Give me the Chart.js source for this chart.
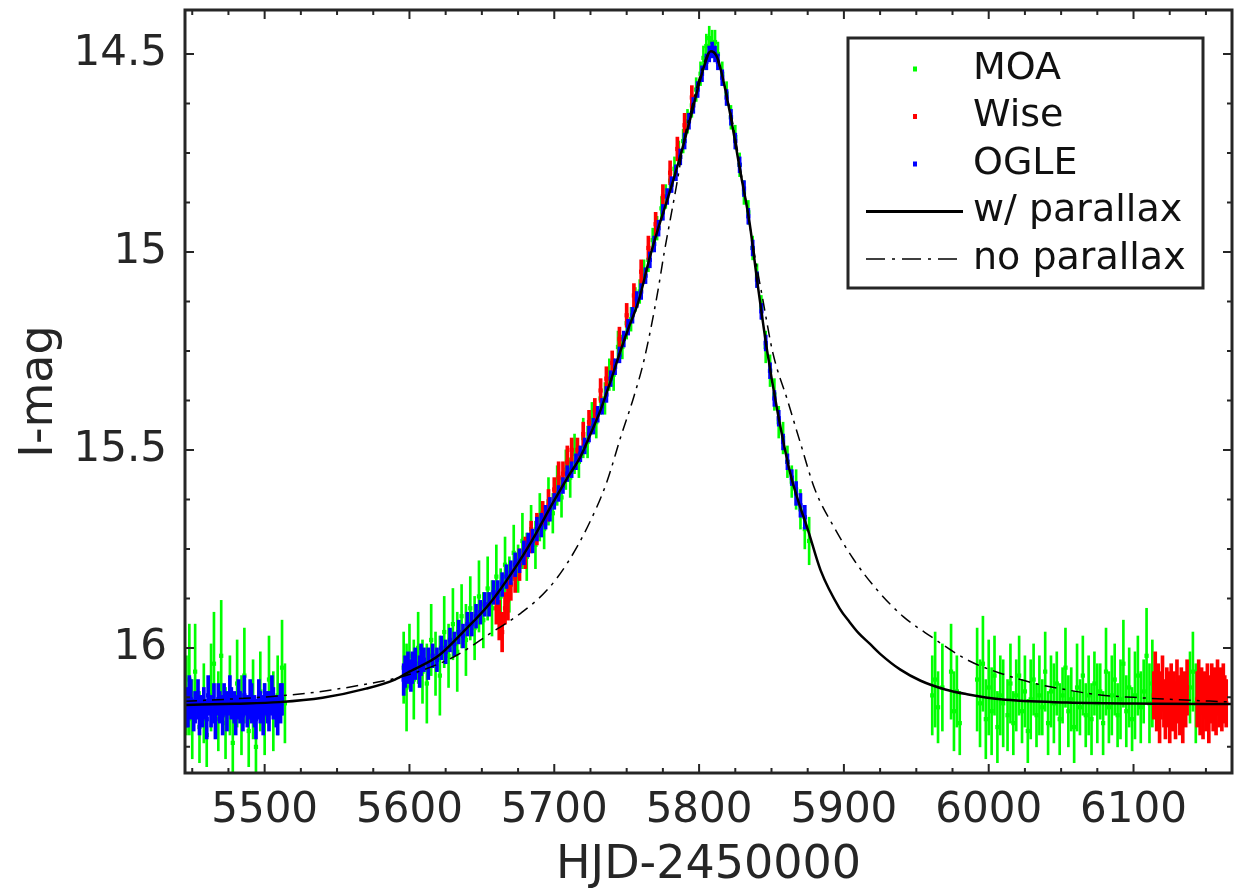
<!DOCTYPE html>
<html>
<head>
<meta charset="utf-8">
<title>I-mag light curve</title>
<script src="https://cdn.jsdelivr.net/npm/chart.js@4.4.1/dist/chart.umd.min.js"></script>
<style>
  html, body { margin: 0; padding: 0; background: #fff; }
  #lightCurve { display: block; }
</style>
</head>
<body>
<canvas id="lightCurve" width="1237" height="889"></canvas>
<script>
// axis ticks
const xTicks = [5500, 5600, 5700, 5800, 5900, 6000, 6100];
const yTicks = [14.5, 15, 15.5, 16];

// [HJD-2450000, I-mag, error]
const moaPoints = [
  [5446,16.12,0.10],[5448,16.08,0.14],[5450,16.18,0.10],[5452,16.06,0.12],[5455,16.20,0.09],
  [5458,16.14,0.10],[5460,16.22,0.08],[5463,16.10,0.11],[5465,16.04,0.13],[5468,16.16,0.10],
  [5470,16.02,0.14],[5473,16.19,0.09],[5476,16.12,0.10],[5478,16.24,0.08],[5481,16.09,0.11],
  [5484,16.17,0.10],[5486,16.07,0.12],[5489,16.21,0.09],[5492,16.13,0.10],[5494,16.25,0.07],
  [5497,16.11,0.10],[5500,16.18,0.09],[5503,16.08,0.11],[5506,16.16,0.10],[5509,16.12,0.10],
  [5512,16.05,0.12],[5514,16.14,0.10],
  [5596,16.05,0.09],[5598,16.10,0.11],[5600,16.02,0.08],[5603,16.08,0.10],[5606,16.00,0.09],
  [5609,16.06,0.08],[5612,16.09,0.10],[5615,15.98,0.09],[5618,16.04,0.08],[5621,16.07,0.10],
  [5624,15.96,0.09],[5627,16.02,0.08],[5630,15.94,0.09],[5633,16.01,0.10],[5636,15.92,0.08],
  [5639,15.98,0.09],[5642,15.90,0.08],[5645,15.95,0.08],[5648,15.87,0.09],[5651,15.93,0.07],
  [5654,15.85,0.08],[5657,15.90,0.07],[5660,15.82,0.08],[5663,15.87,0.07],[5666,15.79,0.07],
  [5669,15.84,0.07],[5672,15.76,0.07],[5675,15.80,0.06],[5678,15.73,0.07],[5681,15.77,0.06],
  [5684,15.70,0.06],[5687,15.74,0.06],[5690,15.67,0.06],[5693,15.70,0.05],[5696,15.63,0.06],
  [5699,15.66,0.05],[5702,15.59,0.05],[5705,15.62,0.05],[5708,15.55,0.05],[5711,15.57,0.05],
  [5714,15.51,0.05],[5717,15.53,0.04],[5720,15.47,0.05],[5723,15.48,0.04],[5726,15.42,0.04],
  [5729,15.43,0.04],[5732,15.37,0.04],[5735,15.37,0.04],[5738,15.31,0.04],[5741,15.31,0.04],
  [5744,15.24,0.04],[5747,15.24,0.03],[5750,15.18,0.04],[5753,15.17,0.03],[5756,15.12,0.03],
  [5759,15.10,0.03],[5762,15.05,0.03],[5765,15.02,0.03],[5768,14.97,0.03],[5771,14.94,0.03],
  [5774,14.89,0.03],[5777,14.86,0.03],[5780,14.82,0.03],[5783,14.79,0.03],[5786,14.75,0.03],
  [5789,14.72,0.03],[5792,14.67,0.03],[5795,14.63,0.03],[5798,14.59,0.03],[5801,14.55,0.03],
  [5803,14.51,0.03],[5805,14.48,0.03],[5807,14.46,0.03],[5809,14.47,0.03],[5811,14.47,0.03],
  [5813,14.50,0.03],[5816,14.55,0.03],[5819,14.60,0.03],[5822,14.66,0.03],[5825,14.71,0.03],
  [5828,14.78,0.03],[5831,14.85,0.03],[5834,14.90,0.03],[5837,14.99,0.03],[5840,15.06,0.03],
  [5843,15.14,0.03],[5846,15.24,0.04],[5849,15.30,0.04],[5852,15.36,0.04],[5855,15.43,0.04],
  [5858,15.47,0.04],[5861,15.53,0.04],[5864,15.58,0.04],[5867,15.60,0.05],[5870,15.65,0.05],
  [5873,15.70,0.05],[5876,15.73,0.06],
  [5961,16.12,0.10],[5963,16.08,0.12],[5965,16.15,0.09],[5968,16.10,0.11],[5974,16.06,0.12],
  [5976,16.16,0.10],[5978,16.11,0.09],[5980,16.19,0.08],[5992,16.08,0.13],[5994,16.14,0.11],
  [5996,16.04,0.12],[5998,16.18,0.10],[6000,16.10,0.12],[6002,16.16,0.11],[6004,16.07,0.10],
  [6006,16.20,0.09],[6008,16.12,0.10],[6010,16.14,0.11],[6013,16.17,0.09],[6015,16.09,0.10],
  [6017,16.19,0.08],[6019,16.12,0.09],[6021,16.07,0.10],[6023,16.16,0.08],[6025,16.11,0.09],
  [6027,16.21,0.08],[6029,16.13,0.10],[6031,16.08,0.09],[6033,16.17,0.08],[6035,16.12,0.10],
  [6037,16.15,0.07],[6039,16.06,0.10],[6041,16.19,0.08],[6043,16.11,0.09],[6045,16.14,0.10],
  [6047,16.09,0.08],[6049,16.18,0.09],[6051,16.12,0.07],[6053,16.05,0.10],[6055,16.16,0.09],
  [6057,16.13,0.08],[6059,16.20,0.09],[6061,16.10,0.11],[6063,16.15,0.07],[6065,16.07,0.10],
  [6067,16.17,0.08],[6069,16.12,0.10],[6071,16.18,0.09],[6073,16.09,0.08],[6075,16.14,0.10],
  [6077,16.11,0.07],[6079,16.19,0.08],[6081,16.06,0.11],[6083,16.15,0.09],[6085,16.12,0.10],
  [6087,16.08,0.09],[6089,16.17,0.08],[6091,16.13,0.10],[6093,16.04,0.11],[6095,16.16,0.09],
  [6097,16.10,0.10],[6099,16.18,0.08],[6101,16.12,0.11],[6103,16.07,0.10],[6105,16.15,0.09],
  [6107,16.11,0.08],[6109,16.02,0.12],[6111,16.14,0.10],[6113,16.09,0.11],
  [6139,16.10,0.09],[6141,16.06,0.10],[6143,16.14,0.10]
];

const wisePoints = [
  [5660,15.90,0.04],[5662,15.93,0.05],[5664,15.96,0.05],[5666,15.90,0.04],[5668,15.88,0.05],
  [5670,15.84,0.04],[5673,15.82,0.04],[5676,15.79,0.04],[5680,15.76,0.04],[5684,15.72,0.04],
  [5688,15.70,0.04],[5692,15.66,0.03],[5696,15.64,0.04],[5700,15.60,0.03],[5703,15.57,0.04],
  [5706,15.56,0.03],[5709,15.53,0.04],[5712,15.50,0.03],[5716,15.50,0.03],[5720,15.46,0.03],
  [5724,15.43,0.03],[5728,15.40,0.03],[5732,15.35,0.03],[5736,15.32,0.03],[5740,15.28,0.03],
  [5745,15.22,0.03],[5750,15.16,0.03],[5755,15.11,0.03],[5760,15.05,0.03],[5765,14.99,0.03],
  [5770,14.93,0.03],[5775,14.86,0.03],[5780,14.80,0.03],[5785,14.74,0.03],[5790,14.68,0.03],
  [5795,14.61,0.03],
  [6114,16.12,0.06],[6115,16.08,0.07],[6116,16.15,0.06],[6117,16.10,0.06],[6118,16.17,0.07],
  [6119,16.12,0.06],[6120,16.09,0.07],[6121,16.14,0.06],[6122,16.16,0.07],[6123,16.11,0.06],
  [6124,16.13,0.07],[6125,16.18,0.06],[6126,16.10,0.06],[6127,16.14,0.07],[6128,16.12,0.06],
  [6129,16.16,0.07],[6130,16.09,0.06],[6131,16.13,0.06],[6132,16.15,0.07],[6133,16.11,0.06],
  [6134,16.17,0.07],[6135,16.12,0.06],[6136,16.14,0.06],[6137,16.10,0.07],
  [6144,16.13,0.07],[6145,16.09,0.06],[6146,16.15,0.07],[6147,16.11,0.06],[6148,16.16,0.07],
  [6149,16.12,0.06],[6150,16.14,0.07],[6151,16.10,0.06],[6152,16.17,0.07],[6153,16.13,0.06],
  [6154,16.11,0.07],[6155,16.15,0.06],[6156,16.12,0.07],[6157,16.16,0.06],[6158,16.10,0.07],
  [6159,16.14,0.06],[6160,16.12,0.07],[6161,16.15,0.06],[6162,16.11,0.07],[6163,16.13,0.06],
  [6164,16.14,0.06]
];

const oglePoints = [
  [5446,16.15,0.05],[5447,16.16,0.04],[5448,16.12,0.05],[5449,16.13,0.05],[5451,16.17,0.04],
  [5452,16.15,0.04],[5454,16.13,0.05],[5455,16.17,0.05],[5457,16.16,0.04],[5458,16.14,0.04],
  [5460,16.18,0.05],[5461,16.12,0.05],[5463,16.16,0.04],[5465,16.14,0.05],[5466,16.18,0.05],
  [5468,16.13,0.04],[5469,16.15,0.04],[5471,16.17,0.05],[5472,16.13,0.04],[5474,16.16,0.05],
  [5476,16.12,0.05],[5477,16.14,0.04],[5479,16.15,0.04],[5480,16.17,0.05],[5482,16.13,0.05],
  [5483,16.15,0.04],[5485,16.17,0.04],[5486,16.12,0.05],[5488,16.16,0.04],[5490,16.13,0.05],
  [5491,16.14,0.05],[5493,16.16,0.04],[5494,16.18,0.05],[5496,16.13,0.05],[5497,16.15,0.04],
  [5499,16.17,0.05],[5500,16.13,0.04],[5502,16.15,0.04],[5503,16.16,0.05],[5505,16.12,0.05],
  [5506,16.14,0.04],[5508,16.16,0.04],[5509,16.17,0.05],[5511,16.14,0.05],[5512,16.13,0.04],
  [5596,16.08,0.04],[5597,16.06,0.04],[5599,16.05,0.04],[5601,16.07,0.04],[5602,16.05,0.04],
  [5604,16.04,0.04],[5607,16.06,0.04],[5608,16.03,0.04],
  [5610,16.03,0.03],[5613,16.04,0.04],[5616,16.02,0.03],[5619,16.03,0.03],[5622,16.00,0.03],
  [5625,16.01,0.03],[5628,15.98,0.03],[5631,15.99,0.03],[5634,15.96,0.03],[5637,15.97,0.03],
  [5640,15.94,0.03],[5643,15.94,0.03],[5646,15.92,0.03],[5649,15.91,0.03],[5652,15.89,0.03],
  [5655,15.89,0.03],[5658,15.86,0.03],[5661,15.86,0.03],[5664,15.84,0.03],[5667,15.82,0.03],
  [5670,15.81,0.03],[5673,15.79,0.03],[5676,15.78,0.03],[5679,15.76,0.03],[5682,15.74,0.03],
  [5685,15.73,0.03],[5688,15.70,0.03],[5691,15.69,0.03],[5694,15.67,0.03],[5697,15.65,0.03],
  [5700,15.63,0.02],[5703,15.61,0.02],[5706,15.59,0.02],[5709,15.56,0.02],[5712,15.55,0.02],
  [5715,15.53,0.02],[5718,15.51,0.02],[5721,15.49,0.02],[5724,15.46,0.02],[5727,15.44,0.02],
  [5730,15.41,0.02],[5733,15.39,0.02],[5736,15.36,0.02],[5739,15.32,0.02],[5742,15.29,0.02],
  [5745,15.26,0.02],[5748,15.22,0.02],[5751,15.19,0.02],[5754,15.16,0.02],[5757,15.12,0.02],
  [5760,15.10,0.02],[5763,15.06,0.02],[5766,15.02,0.02],[5769,14.98,0.02],[5772,14.94,0.02],
  [5775,14.90,0.02],[5778,14.86,0.02],[5781,14.83,0.02],[5784,14.80,0.02],[5787,14.76,0.02],
  [5790,14.72,0.02],[5793,14.67,0.02],[5796,14.63,0.02],[5799,14.59,0.02],[5802,14.55,0.02],
  [5805,14.52,0.02],[5807,14.50,0.02],[5809,14.49,0.02],[5811,14.50,0.02],[5813,14.52,0.02],
  [5816,14.56,0.02],[5819,14.61,0.02],[5822,14.66,0.02],[5825,14.72,0.02],[5828,14.78,0.02],
  [5831,14.84,0.02],[5834,14.91,0.02],[5837,14.99,0.02],[5840,15.07,0.02],[5843,15.15,0.02],
  [5846,15.23,0.02],[5849,15.30,0.02],[5852,15.37,0.02],[5855,15.42,0.02],[5858,15.48,0.02],
  [5861,15.53,0.02],[5864,15.57,0.02],[5867,15.61,0.03],[5870,15.64,0.03],[5873,15.67,0.03]
];

// model curves
const parallaxT = [5445,5480,5510,5540,5570,5590,5600,5620,5637,5655,5672,5686,5699,5710,5718,5725,
  5732,5739,5746,5752,5758,5766,5771,5777,5782,5788,5794,5800,5804,5808,5812,5815,5822,5828,5835,
  5840,5847,5854,5863,5869,5875,5884,5897,5904,5910,5918,5925,5939,5953,5970,5985,6008,6054,6114,6168];
const parallaxMag = [16.144,16.141,16.137,16.126,16.103,16.080,16.060,16.020,15.960,15.890,15.803,15.720,
  15.634,15.565,15.518,15.460,15.399,15.325,15.247,15.185,15.127,15.013,14.950,14.880,14.821,14.745,
  14.662,14.575,14.525,14.493,14.505,14.540,14.662,14.788,14.930,15.070,15.250,15.400,15.560,15.635,
  15.700,15.805,15.900,15.935,15.962,15.990,16.015,16.055,16.083,16.105,16.117,16.130,16.138,16.141,16.142];

const noParallaxT = [5445,5500,5535,5565,5590,5610,5633,5656,5677,5695,5709,5723,5736,5746,5755,5762,
  5771,5776,5780,5785,5790,5796,5801,5806,5809,5814,5819,5824,5829,5834,5838,5844,5851,5861,5870,
  5880,5893,5907,5923,5941,5960,5985,6008,6031,6054,6077,6100,6168];
const noParallaxMag = [16.135,16.124,16.112,16.095,16.077,16.055,16.018,15.963,15.912,15.854,15.786,15.694,
  15.584,15.466,15.365,15.273,15.110,15.000,14.920,14.820,14.710,14.620,14.550,14.500,14.490,14.530,
  14.600,14.690,14.800,14.910,15.000,15.120,15.256,15.374,15.483,15.600,15.694,15.778,15.854,15.921,
  15.971,16.030,16.064,16.089,16.106,16.119,16.125,16.137];

const axisColor = '#262626';
const moaColor = '#00ff00';
const wiseColor = '#ff0000';
const ogleColor = '#0000ff';

Chart.defaults.font.family = "'DejaVu Sans', 'Liberation Sans', sans-serif";

function errorBars(label, points, color, order, thick) {
  return {
    type: 'bar',
    label: label,
    data: points.map(p => ({ x: p[0], y: [p[1] - p[2], p[1] + p[2]] })),
    backgroundColor: color,
    borderWidth: 0,
    barThickness: thick,
    grouped: false,
    order: order
  };
}

function dots(label, points, color, order) {
  return {
    type: 'scatter',
    label: label,
    data: points.map(p => ({ x: p[0], y: p[1] })),
    backgroundColor: color,
    borderWidth: 0,
    pointStyle: 'rect',
    pointRadius: 3,
    order: order
  };
}

// box round the plot, with inward ticks on all four sides
const frameTicks = {
  id: 'frameTicks',
  afterDatasetsDraw(chart) {
    const { ctx, chartArea: a, scales: { x, y } } = chart;
    ctx.save();
    ctx.strokeStyle = axisColor;
    ctx.lineWidth = 2;
    ctx.beginPath();
    for (let k = Math.ceil(x.min / 25); k * 25 <= x.max; k++) {
      const px = x.getPixelForValue(k * 25);
      const len = k % 4 === 0 ? 9 : 5;
      ctx.moveTo(px, a.bottom); ctx.lineTo(px, a.bottom - len);
      ctx.moveTo(px, a.top); ctx.lineTo(px, a.top + len);
    }
    for (let k = Math.ceil(y.min * 8); k / 8 <= y.max; k++) {
      const py = y.getPixelForValue(k / 8);
      const len = k % 4 === 0 ? 9 : 5;
      ctx.moveTo(a.left, py); ctx.lineTo(a.left + len, py);
      ctx.moveTo(a.right, py); ctx.lineTo(a.right - len, py);
    }
    ctx.stroke();
    ctx.lineWidth = 3;
    ctx.strokeRect(a.left, a.top, a.right - a.left, a.bottom - a.top);
    ctx.restore();
  }
};

const legendEntries = [
  { text: 'MOA', kind: 'dot', color: moaColor },
  { text: 'Wise', kind: 'dot', color: wiseColor },
  { text: 'OGLE', kind: 'dot', color: ogleColor },
  { text: 'w/ parallax', kind: 'solid', color: '#000' },
  { text: 'no parallax', kind: 'dashdot', color: '#000' }
];

const boxLegend = {
  id: 'boxLegend',
  afterDraw(chart) {
    const { ctx, chartArea: a } = chart;
    const left = a.right - 384, top = a.top + 28, w = 355, h = 250;
    ctx.save();
    ctx.fillStyle = '#fff';
    ctx.fillRect(left, top, w, h);
    ctx.strokeStyle = axisColor;
    ctx.lineWidth = 3;
    ctx.strokeRect(left, top, w, h);
    ctx.font = "38px 'DejaVu Sans'";
    ctx.textBaseline = 'middle';
    legendEntries.forEach((e, i) => {
      const cy = top + 31 + i * 47.5;
      if (e.kind === 'dot') {
        ctx.fillStyle = e.color;
        ctx.fillRect(left + 65, cy - 2.5, 4, 5);
      } else {
        ctx.strokeStyle = e.color;
        ctx.lineWidth = e.kind === 'solid' ? 3 : 1.5;
        ctx.setLineDash(e.kind === 'solid' ? [] : [19, 7, 3, 7]);
        ctx.beginPath();
        ctx.moveTo(left + 18, cy);
        ctx.lineTo(left + 115, cy);
        ctx.stroke();
        ctx.setLineDash([]);
      }
      ctx.fillStyle = '#111';
      ctx.fillText(e.text, left + 125, cy);
    });
    ctx.restore();
  }
};

new Chart(document.getElementById('lightCurve'), {
  type: 'scatter',
  data: {
    datasets: [
      {
        type: 'line',
        label: 'w/ parallax',
        data: parallaxT.map((t, i) => ({ x: t, y: parallaxMag[i] })),
        borderColor: '#000',
        borderWidth: 2.5,
        pointRadius: 0,
        showLine: true,
        fill: false,
        cubicInterpolationMode: 'monotone',
        order: 0
      },
      {
        type: 'line',
        label: 'no parallax',
        data: noParallaxT.map((t, i) => ({ x: t, y: noParallaxMag[i] })),
        borderColor: '#000',
        borderWidth: 1.5,
        borderDash: [12, 6, 3, 6],
        pointRadius: 0,
        showLine: true,
        fill: false,
        cubicInterpolationMode: 'monotone',
        order: 1
      },
      dots('OGLE', oglePoints, ogleColor, 2),
      errorBars('OGLE err', oglePoints, ogleColor, 3, 3),
      dots('Wise', wisePoints, wiseColor, 4),
      errorBars('Wise err', wisePoints, wiseColor, 5, 3),
      dots('MOA', moaPoints, moaColor, 6),
      errorBars('MOA err', moaPoints, moaColor, 7, 2)
    ]
  },
  options: {
    responsive: false,
    animation: false,
    events: [],
    layout: { padding: { top: 10, right: 5, left: 0, bottom: 0 } },
    scales: {
      x: {
        type: 'linear',
        min: 5445,
        max: 6168,
        offset: false,
        afterFit: s => { s.height = 116; s.paddingLeft = 0; s.paddingRight = 0; },
        afterBuildTicks: s => { s.ticks = xTicks.map(v => ({ value: v })); },
        grid: { display: false, drawTicks: false, offset: false },
        border: { display: false },
        ticks: {
          autoSkip: false,
          maxRotation: 0,
          padding: 17,
          color: axisColor,
          font: { size: 42, lineHeight: 1 },
          callback: v => String(v)
        },
        title: {
          display: true,
          text: 'HJD-2450000',
          color: axisColor,
          font: { size: 46, lineHeight: 1 },
          padding: { top: 0, bottom: 0 }
        }
      },
      y: {
        type: 'linear',
        reverse: true,
        min: 14.389,
        max: 16.316,
        beginAtZero: false,
        afterFit: s => { s.width = 185; s.paddingTop = 0; s.paddingBottom = 0; },
        afterBuildTicks: s => { s.ticks = yTicks.map(v => ({ value: v })); },
        grid: { display: false, drawTicks: false },
        border: { display: false },
        ticks: {
          padding: 18,
          color: axisColor,
          font: { size: 42, lineHeight: 1 },
          callback: v => String(v)
        },
        title: {
          display: true,
          text: 'I-mag',
          color: axisColor,
          font: { size: 46, lineHeight: 1 },
          padding: { top: 17, bottom: 0 }
        }
      }
    },
    plugins: {
      legend: { display: false },
      tooltip: { enabled: false }
    }
  },
  plugins: [frameTicks, boxLegend]
});
</script>
</body>
</html>
